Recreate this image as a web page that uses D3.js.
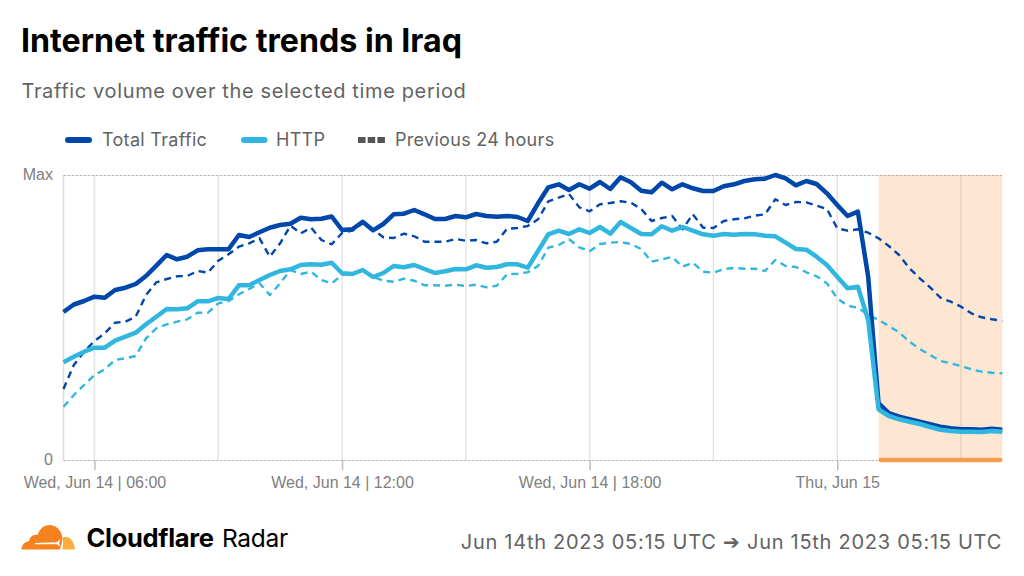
<!DOCTYPE html>
<html><head><meta charset="utf-8">
<script src="https://cdn.jsdelivr.net/npm/d3@7"></script>
<style>
html,body{margin:0;padding:0;background:#fff;}
svg{display:block;}
text{font-family:Inter,"Noto Sans",sans-serif;}
</style></head><body>
<svg id="c" width="1024" height="576"></svg>
<script>
// Values on a normalised scale where 285 = "Max"; one sample every 15 minutes from the start time.
const startTime = "2023-06-14T05:15:00Z";
const stepMinutes = 15;
const totalTraffic = [148,155.5,159,163.3,162.3,170,172.3,176,184,194.3,205,200.7,203.3,209.7,210.7,210.7,210.7,225,223,227.7,232.3,235,236.3,242.3,240.7,241.3,243.5,230,230.7,238.3,229.7,236,245.7,246.3,250,245.7,241,241,244,242.7,246,244,243.3,244,243,239,256.7,272.7,275.7,270,275.7,271.3,278,271,282.7,277.7,269.3,267.7,277.3,270.7,275.7,271.7,269,269,273.7,275.7,279,280.7,281.3,285,281.7,274.7,279,276,266.7,255,244,248.3,183.3,57,47,43.3,40.7,38.3,35.7,33.3,31.7,30.7,30.7,30.3,31.3,30.3];
const httpTraffic = [97.7,103.3,108.3,112.3,112.3,119.3,123.3,127.3,135.7,143.3,151,150.7,151.7,158.7,158.7,162,161,174.7,174.7,180,185,189,190.7,195,195.7,195.3,197.3,186.7,186,190,183,187,194,192.7,195,191,187,188.7,191,190.7,194.7,192.3,193,195.7,195.7,192.3,209,225.7,229.3,226,230.7,227,233,226.3,238,232,226,225.7,233.7,229.3,233,229.3,225.7,224.3,226,225.3,226,225.7,224.3,223.7,217.3,211,210.3,203.3,195,183.3,171.7,173.3,140,50.7,44,40.7,38.3,36,33,30.3,29,28.3,28.3,28,29,28.3];
const prevTotal = [71,95,108.3,119,126.7,137.3,138.3,143.3,165,177.7,181,183.7,184,189,187.3,199.3,205.7,213.3,216.7,221.7,203.3,216.7,234.3,226.7,232.3,220,215.7,227,229.3,236.7,230.7,222.7,222,226.3,223.7,218.3,218.3,218.3,221,219.3,220,216.7,218.3,231.3,232,234,240.7,258.7,262.3,266,252.7,248.7,255.7,257,258.7,257.3,251,239,242,244,230.7,245.7,232.3,232,239,240.7,241.7,244.3,245.7,260.7,255,258,257.7,254.3,251,231.7,229.3,230.7,227.3,221.7,214,205,191.7,181.7,172.7,162.3,158.3,153.3,146.7,142.7,140.7,139.3];
const prevHttp = [53.3,65,75,85,90.7,100,101.7,104,121.7,131.7,135.7,138.3,140.7,147.3,147.3,156.7,159,165.7,171,176.7,165,176.7,190,186,188.3,180,176.7,185,186.7,190,183.3,179.3,178.3,181.3,179.3,174.7,174.7,174.3,175.3,174,175.3,172.7,174.3,185.7,186.3,187.7,194,212.3,215,220.7,212.7,208.7,216,217.3,218,216,211,198.3,200.7,203,193.3,197.3,188.3,187.3,191,192,191.3,191.3,189,200,194,193,187.7,183.7,176.7,161.7,154.3,152.3,145,140,134,127.7,118.3,111,105,99,96.7,94,90.7,88.3,87.3,86.7];
const outageStart = "2023-06-15T01:00:00Z";
const yMax = 285;
const yTickValues = [0, yMax];
const yTickLabels = ["0", "Max"];
const xTickTimes = ["2023-06-14T06:00:00Z","2023-06-14T12:00:00Z","2023-06-14T18:00:00Z","2023-06-15T00:00:00Z"];
const xTickLabels = ["Wed, Jun 14 | 06:00","Wed, Jun 14 | 12:00","Wed, Jun 14 | 18:00","Thu, Jun 15"];
const gridTimes = ["2023-06-14T06:00:00Z","2023-06-14T09:00:00Z","2023-06-14T12:00:00Z","2023-06-14T15:00:00Z","2023-06-14T18:00:00Z","2023-06-14T21:00:00Z","2023-06-15T00:00:00Z","2023-06-15T03:00:00Z"];
const legendLabels = ["Total Traffic","HTTP","Previous 24 hours"];

const C = {total:"#0047ab", http:"#31b7df", grey:"#636363", tick:"#808080", band:"#f6821f"};
const M = {l:63.5, r:1002.3, t:175, b:460};
const t0 = new Date(startTime).getTime();
const timeAt = i => new Date(t0 + i*stepMinutes*60000);
const tEnd = timeAt(totalTraffic.length-1);
const x = d3.scaleUtc().domain([timeAt(0), tEnd]).range([M.l, M.r]);
const y = d3.scaleLinear().domain([0,yMax]).range([M.b, M.t]);
const svg = d3.select("#c");

// Title
svg.append("text").attr("x",21).attr("y",52).attr("font-size",32.2).attr("font-weight",700).attr("fill","#000").text("Internet traffic trends in Iraq");
svg.append("text").attr("x",21.5).attr("y",98).attr("font-size",20).attr("letter-spacing",0.64).attr("fill",C.grey).text("Traffic volume over the selected time period");

// Legend
const lg = svg.append("g");
const legendItems = [
  {x1:68,x2:89,tx:102,c:C.total,dash:null,label:legendLabels[0]},
  {x1:244,x2:264.5,tx:276,c:C.http,dash:null,label:legendLabels[1]},
  {x1:358,x2:385,tx:395,c:"#555",dash:"7.5 2.2",label:legendLabels[2]}
];
legendItems.forEach(d=>{
  lg.append("line").attr("x1",d.x1).attr("x2",d.x2).attr("y1",140).attr("y2",140)
    .attr("stroke",d.c).attr("stroke-width",6).attr("stroke-linecap",d.dash?"butt":"round").attr("stroke-dasharray",d.dash);
  lg.append("text").attr("x",d.tx).attr("y",146).attr("font-size",18).attr("letter-spacing",0.3).attr("fill",C.grey).text(d.label);
});

// Vertical grid
svg.append("g").selectAll("line").data(gridTimes).join("line")
  .attr("x1",d=>x(new Date(d))).attr("x2",d=>x(new Date(d))).attr("y1",M.t).attr("y2",M.b)
  .attr("stroke","#e4e4e4").attr("stroke-width",1.5);

// Left axis line and horizontal dashed rules
svg.append("line").attr("x1",M.l).attr("x2",M.l).attr("y1",M.t).attr("y2",M.b).attr("stroke","#dcdcdc").attr("stroke-width",1.5);
svg.append("g").selectAll("line").data(yTickValues).join("line")
  .attr("x1",M.l).attr("x2",M.r).attr("y1",d=>y(d)+0.5).attr("y2",d=>y(d)+0.5)
  .attr("stroke","#b5b5b5").attr("stroke-width",1).attr("stroke-dasharray","2.5 1.5");

// Y labels
svg.append("g").selectAll("text").data(yTickValues).join("text")
  .attr("x",53).attr("y",d=>y(d)+4.5).attr("text-anchor","end")
  .style("font-family","'Liberation Sans',Arial,sans-serif")
  .attr("font-size",16).attr("fill",C.tick).text((d,i)=>yTickLabels[i]);

// X axis
const xAxis = d3.axisBottom(x).tickValues(xTickTimes.map(d=>new Date(d))).tickSize(10).tickPadding(6.5)
  .tickFormat((d,i)=>xTickLabels[i]);
const ax = svg.append("g").attr("transform",`translate(0,${M.b})`).call(xAxis);
ax.select(".domain").remove();
ax.selectAll(".tick line").attr("stroke","#bdbdbd").attr("stroke-width",1.5);
ax.selectAll(".tick text").style("font-family","'Liberation Sans',Arial,sans-serif").attr("font-size",16).attr("fill",C.tick);

// Outage band
const bx = x(new Date(outageStart));
svg.append("rect").attr("x",bx).attr("y",M.t).attr("width",M.r-bx).attr("height",M.b-M.t)
  .attr("fill",C.band).attr("fill-opacity",0.2);
svg.append("rect").attr("x",bx).attr("y",M.b-2.3).attr("width",M.r-bx).attr("height",4.6).attr("rx",2)
  .attr("fill","#f6963f").attr("fill-opacity",0.9);

// Lines
const line = d3.line().x((d,i)=>x(timeAt(i))).y(d=>y(d)).curve(d3.curveLinear);
const series = [
  {v:prevHttp,c:C.http,w:2.4,dash:"7 5"},
  {v:prevTotal,c:C.total,w:2.4,dash:"7 5"},
  {v:totalTraffic,c:C.total,w:4.5,dash:null},
  {v:httpTraffic,c:C.http,w:4.5,dash:null}
];
svg.append("g").selectAll("path").data(series).join("path")
  .attr("d",d=>line(d.v)).attr("fill","none").attr("stroke",d=>d.c).attr("stroke-width",d=>d.w)
  .attr("stroke-dasharray",d=>d.dash).attr("stroke-linejoin","round");

// Logo
const logo = svg.append("g");
logo.append("path").attr("fill","#f6821f").attr("d","M21.5 549.5C21.5 545 25 541.5 29 541.3C29.5 537 33.5 534 37.5 535C39.5 529 44 525 49.5 525C56 525 61 530 62.3 536.5C62.8 540 61.5 545 60 549.5Z");
logo.append("path").attr("fill","#fbad41").attr("d","M62.3 549.5C63 546.5 63.5 541.5 62.5 537.5C63.5 537 65 537 66 537C71 537 74.5 543 75 549.5Z");
logo.append("path").attr("fill","#fff").attr("d","M35 543.1L57 542.3L60.5 539L59 543.4L60.5 547L57 544.2L35 544.2Z");
svg.append("text").attr("x",86.5).attr("y",547).attr("font-size",25.5).attr("font-weight",700).attr("letter-spacing",-0.3).attr("fill","#000").text("Cloudflare");
svg.append("text").attr("x",222).attr("y",547).attr("font-size",24.5).attr("font-weight",400).attr("letter-spacing",-0.3).attr("fill","#000").text("Radar");

// Date range
svg.append("text").attr("x",1002).attr("y",549).attr("text-anchor","end").attr("font-size",20).attr("letter-spacing",0.73).attr("fill",C.grey).text("Jun 14th 2023 05:15 UTC ➔ Jun 15th 2023 05:15 UTC");
</script>
</body></html>
